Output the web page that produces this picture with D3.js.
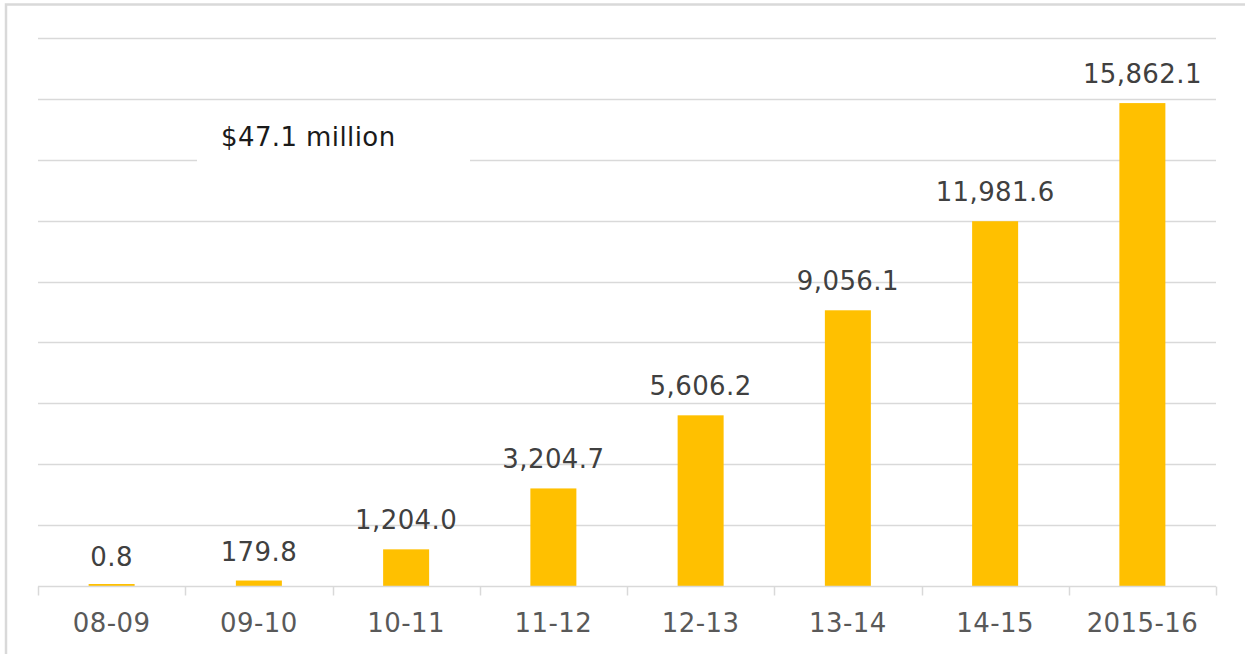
<!DOCTYPE html>
<html>
<head>
<meta charset="utf-8">
<script src="https://cdn.jsdelivr.net/npm/d3@7"></script>
<style>
  html, body { margin: 0; padding: 0; background: #fff; }
  svg { display: block; }
  text { font-family: Verdana, "DejaVu Sans", sans-serif; letter-spacing: 0.4px; }
</style>
</head>
<body>
<svg id="chart" width="1245" height="654"></svg>
<script>
const categories = ["08-09", "09-10", "10-11", "11-12", "12-13", "13-14", "14-15", "2015-16"];
const values = [0.8, 179.8, 1204.0, 3204.7, 5606.2, 9056.1, 11981.6, 15862.1];
const gridTicks = [0, 2000, 4000, 6000, 8000, 10000, 12000, 14000, 16000, 18000];
const annotation = "$47.1 million";

(function () {
const svg = d3.select("#chart");
const W = 1245, H = 654;
const mLeft = 38, mRight = 1216, mTop = 38, mBottom = 586;
const fs = 26;

// frame
svg.append("rect").attr("x", 6).attr("y", 4.5).attr("width", W + 10).attr("height", H + 10)
  .attr("fill", "#fff").attr("stroke", "#d9d9d9").attr("stroke-width", 2.5);

const x = d3.scaleBand().domain(categories).range([mLeft, mRight]).padding(0);
const y = d3.scaleLinear().domain([0, 18000]).range([mBottom, mTop]);

// gridlines
svg.append("g").selectAll("line").data(gridTicks.filter(d => d > 0)).join("line")
  .attr("x1", mLeft).attr("x2", mRight)
  .attr("y1", d => Math.round(y(d)) + 0.5).attr("y2", d => Math.round(y(d)) + 0.5)
  .attr("stroke", "#d9d9d9").attr("stroke-width", 1.3);

// annotation box & text
svg.append("rect").attr("x", 197).attr("y", 112).attr("width", 273).attr("height", 58).attr("fill", "#fff");
svg.append("text").attr("x", 221).attr("y", 146)
  .attr("font-size", fs).attr("fill", "#1a1a1a").text(annotation);

// bars
const barW = 46;
svg.append("g").selectAll("rect").data(values).join("rect")
  .attr("x", (d, i) => x(categories[i]) + x.bandwidth() / 2 - barW / 2)
  .attr("width", barW)
  .attr("y", d => Math.min(y(d), mBottom - 2))
  .attr("height", d => Math.max(mBottom - y(d), 2))
  .attr("fill", "#FFC000");

// value labels
const fmt = d3.format(",.1f");
svg.append("g").selectAll("text").data(values).join("text")
  .attr("x", (d, i) => x(categories[i]) + x.bandwidth() / 2)
  .attr("y", d => y(d) - 20)
  .attr("text-anchor", "middle").attr("font-size", fs).attr("fill", "#404040")
  .text(d => fmt(d));

// x axis
const gx = svg.append("g").attr("transform", `translate(0,${mBottom + 0.5})`);
gx.append("line").attr("x1", mLeft).attr("x2", mRight).attr("stroke", "#d9d9d9").attr("stroke-width", 1.5);
const bounds = categories.map(c => x(c)).concat([mRight]);
gx.selectAll("line.tick").data(bounds).join("line").attr("class", "tick")
  .attr("x1", d => Math.round(d) + 0.5).attr("x2", d => Math.round(d) + 0.5)
  .attr("y1", 0).attr("y2", 9).attr("stroke", "#d9d9d9").attr("stroke-width", 1.5);
gx.selectAll("text.lbl").data(categories).join("text").attr("class", "lbl")
  .attr("x", d => x(d) + x.bandwidth() / 2).attr("y", 45)
  .attr("text-anchor", "middle").attr("font-size", fs).attr("fill", "#595959")
  .text(d => d);
})();
</script>
</body>
</html>
